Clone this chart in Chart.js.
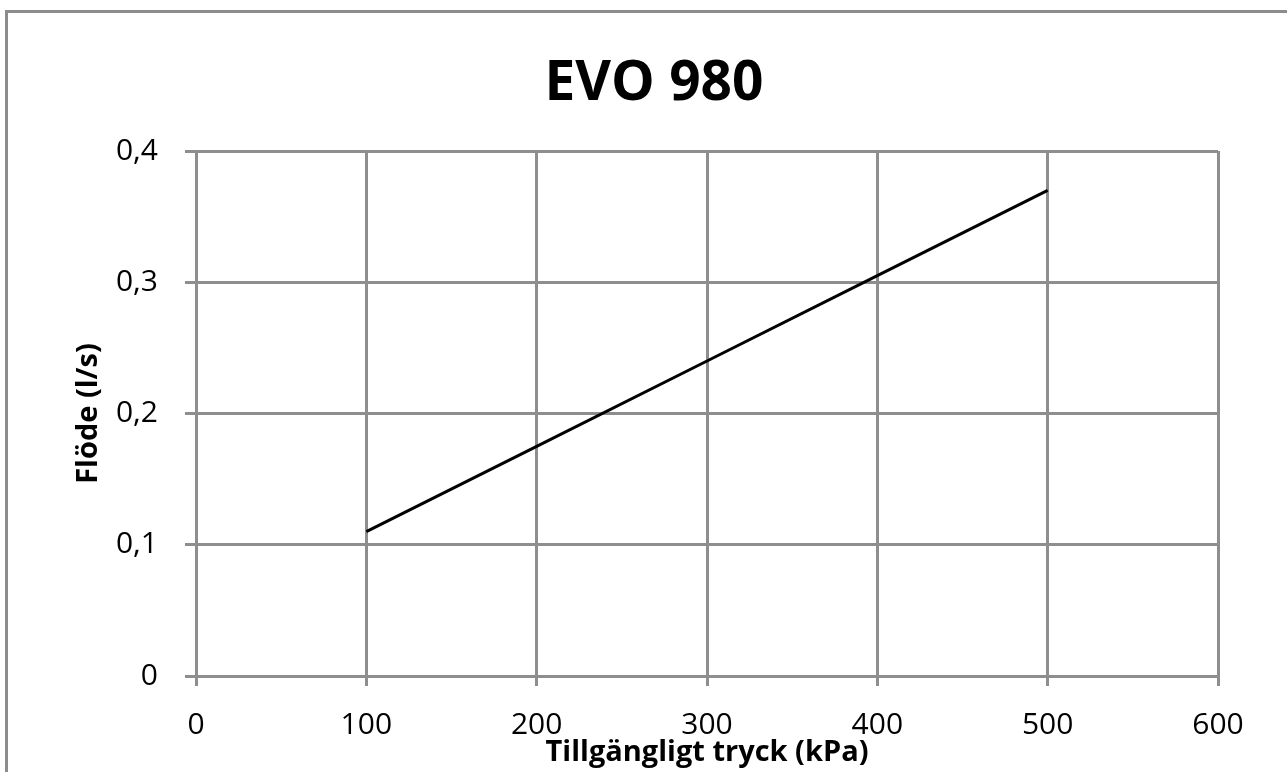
<!DOCTYPE html>
<html lang="sv">
<head>
    <meta charset="UTF-8">
    <title>EVO 980</title>
    <script src="https://cdn.jsdelivr.net/npm/chart.js@4.4.1/dist/chart.umd.min.js"></script>
    <style>
        html, body { margin: 0; padding: 0; background: #fff; overflow: hidden; }
        #frame {
            position: absolute; left: 5px; top: 10px;
            width: 1280px; height: 800px;
            border: 3px solid #8c8c8c;
        }
        #myChart { position: absolute; left: 0; top: 0; }
    </style>
</head>
<body>
    <div id="frame"></div>
    <canvas id="myChart" width="1287" height="772"></canvas>

    <script>
        // data
        const tryck = [100, 200, 300, 400, 500]          // kPa
        const flode = [0.11, 0.175, 0.24, 0.305, 0.37]    // l/s
        const yTickLabels = ['0', '0,1', '0,2', '0,3', '0,4']

        const gridGrey = '#8e8e8e'
        const fam = "'Open Sans', 'Liberation Sans', sans-serif"

        const punkter = tryck.map((x, i) => ({ x: x, y: flode[i] }))

        const ctx = document.getElementById('myChart').getContext('2d')
        const myChart = new Chart(ctx, {
            type: 'line',
            data: {
                datasets: [{
                    data: punkter,
                    borderColor: '#000',
                    borderWidth: 3,
                    pointRadius: 0,
                    tension: 0,
                    xAxisID: 'x',
                    yAxisID: 'y'
                }]
            },
            options: {
                responsive: false,
                animation: false,
                layout: { padding: { left: 21, right: 0, top: 0, bottom: 0 } },
                plugins: {
                    legend: { display: false },
                    tooltip: { enabled: false },
                    title: {
                        display: true,
                        text: 'EVO 980',
                        color: '#000',
                        font: { family: fam, size: 55, weight: 'bold' },
                        padding: { top: 51, bottom: 34 }
                    }
                },
                scales: {
                    x: {
                        type: 'linear',
                        position: 'bottom',
                        min: 0, max: 600,
                        ticks: {
                            stepSize: 100,
                            color: '#000',
                            padding: 21,
                            maxRotation: 0,
                            font: { family: fam, size: 30 }
                        },
                        grid: { color: gridGrey, lineWidth: 3, tickLength: 10 },
                        border: { color: gridGrey, width: 3 },
                        title: {
                            display: true,
                            text: 'Tillgängligt tryck (kPa)',
                            color: '#000',
                            font: { family: fam, size: 29, weight: 'bold' },
                            padding: { top: 0, bottom: 2 }
                        },
                        afterFit: s => { s.height = 96 }
                    },
                    y: {
                        type: 'linear',
                        position: 'left',
                        min: 0, max: 0.4,
                        ticks: {
                            stepSize: 0.1,
                            color: '#000',
                            padding: 27,
                            font: { family: fam, size: 30 },
                            callback: (v, i) => yTickLabels[i]
                        },
                        grid: { color: gridGrey, lineWidth: 3, tickLength: 11 },
                        border: { color: gridGrey, width: 3 },
                        title: {
                            display: true,
                            text: 'Flöde (l/s)',
                            color: '#000',
                            font: { family: fam, size: 29, weight: 'bold' },
                            padding: { top: 50, bottom: 0 }
                        },
                        afterFit: s => { s.width = 175 }
                    },
                    // empty space on the right side of the plot
                    yR: {
                        type: 'linear',
                        position: 'right',
                        display: true,
                        ticks: { display: false },
                        grid: { display: false, drawTicks: false },
                        border: { display: false },
                        afterFit: s => { s.width = 69 }
                    }
                }
            }
        })
    </script>
</body>
</html>
